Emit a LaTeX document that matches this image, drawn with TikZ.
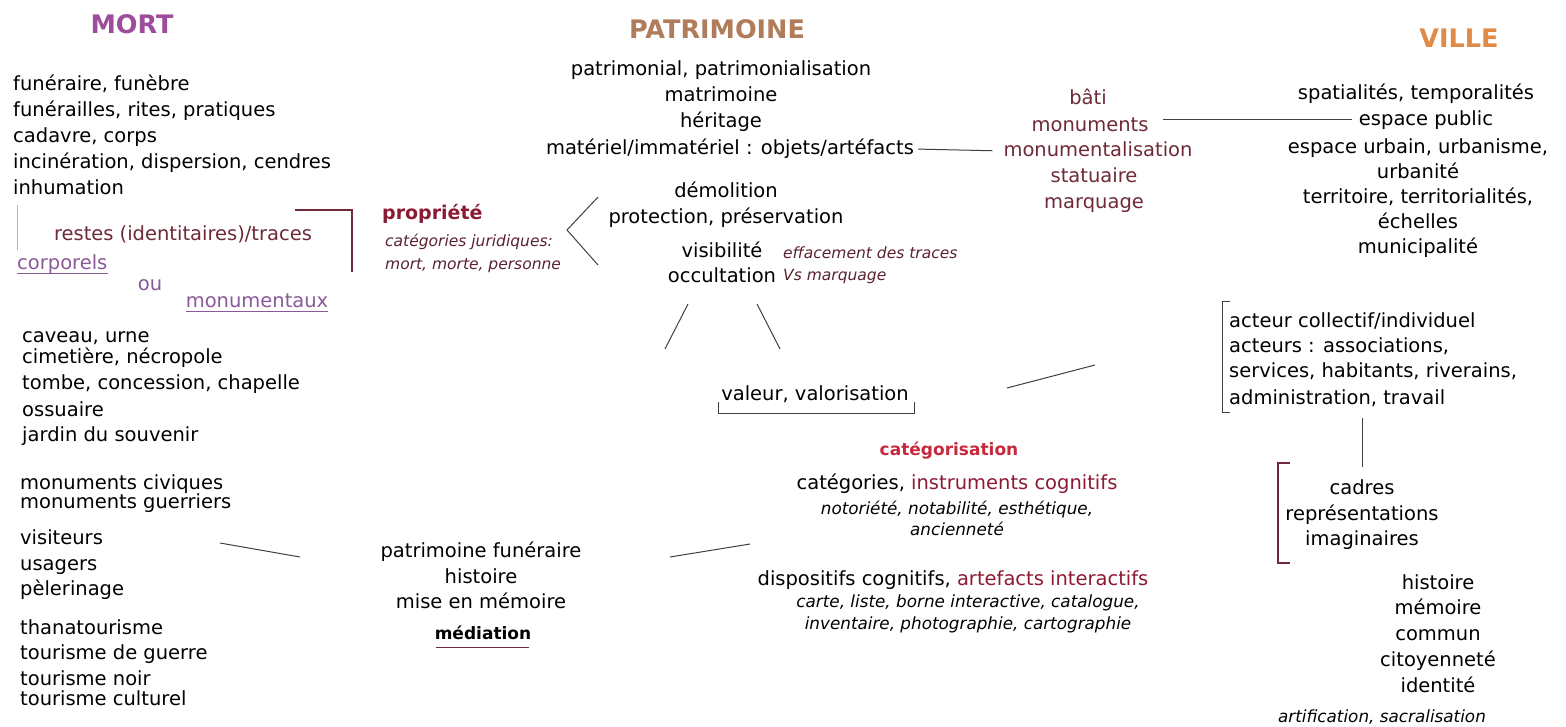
\documentclass[tikz,border=0pt]{standalone}
\usepackage{fontspec}
\setmainfont{DejaVu Sans}

\definecolor{mortcol}{HTML}{9E4C9C}
\definecolor{patcol}{HTML}{B07C5A}
\definecolor{villecol}{HTML}{E08A45}
\definecolor{rougefonce}{HTML}{6E2A38}
\definecolor{propcol}{HTML}{8C1A35}
\definecolor{catcol}{HTML}{C8283C}
\definecolor{lilas}{HTML}{8A5A98}
\definecolor{brunit}{HTML}{5B2330}

\begin{document}
\begin{tikzpicture}[
  x=1pt, y=-1pt,
  every node/.style={inner sep=0pt, font=\fontsize{19.5}{26}\selectfont, execute at begin node=\strut},
  titre/.style={font=\fontsize{25.5}{30}\selectfont\bfseries, execute at begin node={}},
  petit/.style={font=\fontsize{15.5}{23}\selectfont\itshape},
  moyen/.style={font=\fontsize{16.8}{23}\selectfont\itshape},
  gras/.style={font=\fontsize{17}{26}\selectfont\bfseries},
  trait/.style={line width=1pt, black!75},
  crochet/.style={line width=1.3pt, rougefonce}
]
\fill[white] (0,0) rectangle (1566,727);
\useasboundingbox (0,0) rectangle (1566,727);

% titres
\node[titre, text=mortcol] (mort) at (132,28) {MORT};
\node[titre, text=patcol] (patrimoine) at (717,33) {PATRIMOINE};
\node[titre, text=villecol] (ville) at (1459,42) {VILLE};

% colonne MORT
\node[anchor=north west, align=left] (funeraire) at (13,75)
  {funéraire, funèbre\\funérailles, rites, pratiques\\cadavre, corps\\incinération, dispersion, cendres\\inhumation};
\node[text=rougefonce] (restes) at (183,235) {restes (identitaires)/traces};
\node[text=lilas, anchor=west] (corporels) at (17,264) {corporels};
\node[text=lilas] (ou) at (150,285) {ou};
\node[text=lilas] (monumentaux) at (257,302) {monumentaux};
\draw[lilas] ([yshift=-4pt]corporels.base west) -- ([yshift=-4pt]corporels.base east);
\draw[lilas] ([yshift=-4pt]monumentaux.base west) -- ([yshift=-4pt]monumentaux.base east);
\draw[black!30] (17,205) -- (17,250);
\draw[crochet] (295,210) -- (352,210) -- (352,272);

\node[anchor=north west, align=left] (caveau) at (22,331)
  {caveau, urne\\[-5pt]cimetière, nécropole\\tombe, concession, chapelle\\[1pt]ossuaire\\[-1pt]jardin du souvenir};
\node[anchor=north west, align=left] (civiques) at (20,474)
  {monuments civiques\\[-7pt]monuments guerriers};
\node[anchor=north west, align=left] (visiteurs) at (20,529)
  {visiteurs\\usagers\\[-1pt]pèlerinage};
\node[anchor=north west, align=left] (tourisme) at (20,619)
  {thanatourisme\\[-1pt]tourisme de guerre\\tourisme noir\\[-6pt]tourisme culturel};

% propriete
\node[font=\fontsize{19}{26}\selectfont\bfseries, text=propcol, anchor=west] (propriete) at (382,214) {propriété};
\node[petit, text=brunit, anchor=north west, align=left] (juridique) at (385,234)
  {catégories juridiques:\\mort, morte, personne};
\draw[trait] (598,197) -- (567,230) -- (598,265);

% colonne PATRIMOINE
\node[anchor=north, align=center] (patrimonial) at (721,60)
  {patrimonial, patrimonialisation\\matrimoine\\héritage};
\node (materiel) at (730,149) {matériel/immatériel : objets/artéfacts};
\node[anchor=north, align=center] (demolition) at (726,182) {démolition\\protection, préservation};
\node[anchor=north, align=center] (visibilite) at (722,242) {visibilité\\[-1pt]occultation};
\node[petit, text=brunit, anchor=north west, align=left] (effacement) at (783,247)
  {effacement des traces\\[-1pt]Vs marquage};

\coordinate (g1) at (688,304); \coordinate (g2) at (665,349);
\coordinate (d1) at (757,304); \coordinate (d2) at (780,349);
\draw[trait] (g1) -- (g2);
\draw[trait] (d1) -- (d2);

\node (valeur) at (815,395) {valeur, valorisation};
\draw[trait] (718,402) -- (718,413) -- (914,413) -- (914,402);
\coordinate (v1) at (1007,388); \coordinate (v2) at (1095,365);
\draw[trait] (v1) -- (v2);

% bati
\node[text=rougefonce] (bati) at (1088,99) {bâti};
\node[text=rougefonce] (monuments) at (1090,126) {monuments};
\node[text=rougefonce] (monumentalisation) at (1098,151) {monumentalisation};
\node[text=rougefonce, anchor=north, align=center] (statuaire) at (1094,167) {statuaire\\marquage};
\draw[trait, shorten <=4pt, shorten >=11pt] (materiel.east) -- (monumentalisation.west);

% colonne VILLE
\node (spatialites) at (1416,94) {spatialités, temporalités};
\node (espace) at (1426,120) {espace public};
\draw[trait, shorten <=14pt, shorten >=7pt] (monuments.east |- espace.west) -- (espace.west);
\node[anchor=north, align=center] (urbain) at (1418,138)
  {espace urbain, urbanisme,\\[-1pt]urbanité\\[-1pt]territoire, territorialités,\\[-1pt]échelles\\[-1pt]municipalité};

\node[anchor=north west, align=left] (acteur) at (1229,312)
  {acteur collectif/individuel\\[-1pt]acteurs : associations,\\[-1pt]services, habitants, riverains,\\[1pt]administration, travail};
\draw[trait] (1230,302) -- (1222,302) -- (1222,412) -- (1230,412);

\node[anchor=north, align=center] (cadres) at (1362,479) {cadres\\représentations\\[-1pt]imaginaires};
\draw[trait] (cadres.north |- 0,418) -- (cadres.north |- 0,467);
\draw[crochet] (1290,463) -- (1278,463) -- (1278,563) -- (1290,563);

\node[anchor=north, align=center] (histoire) at (1438,574)
  {histoire\\[-1pt]mémoire\\commun\\citoyenneté\\identité};
\node[moyen] (artification) at (1382,718) {artification, sacralisation};

% bas
\node[anchor=north, align=center] (funerairepat) at (481,542)
  {patrimoine funéraire\\histoire\\[-1pt]mise en mémoire};
\node[gras] (mediation) at (483,634) {médiation};
\draw[crochet, line width=1pt] (436,647) -- (529,647);
\coordinate (p1) at (220,543); \coordinate (p2) at (300,557);
\draw[trait] (p1) -- (p2);
\coordinate (c1) at (670,557); \coordinate (c2) at (750,544);
\draw[trait] (c1) -- (c2);

\node[gras, text=catcol] (categorisation) at (949,450) {catégorisation};
\node (categories) at (957,484) {catégories, {\color{propcol}instruments cognitifs}};
\node[moyen, anchor=north, align=center] (notoriete) at (957,501)
  {notoriété, notabilité, esthétique,\\[-2pt]ancienneté};
\node (dispositifs) at (953,580) {dispositifs cognitifs, {\color{propcol}artefacts interactifs}};
\node[moyen, anchor=north, align=center] (carte) at (968,595)
  {carte, liste, borne interactive, catalogue,\\[-1pt]inventaire, photographie, cartographie};
\end{tikzpicture}
\end{document}
